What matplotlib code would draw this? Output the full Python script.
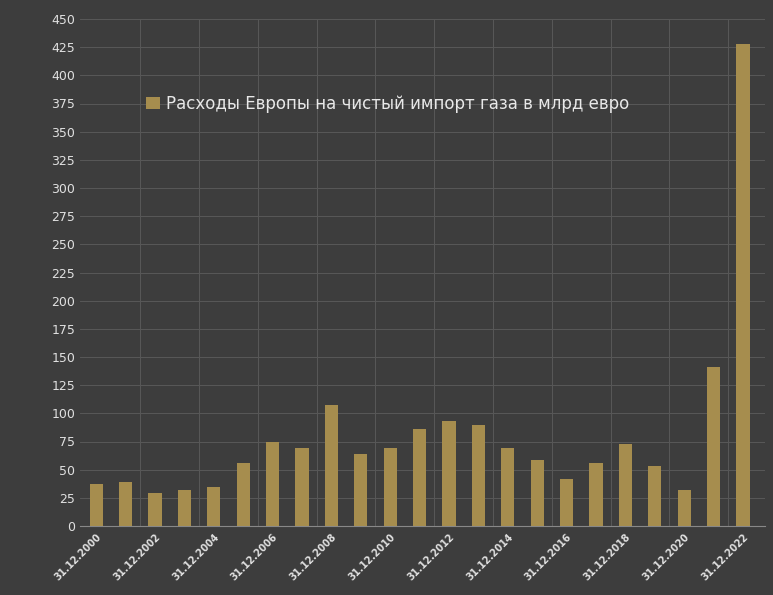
import matplotlib
matplotlib.use("Agg")
import matplotlib.pyplot as plt

years = list(range(2000, 2023))
values = [37, 39, 29, 32, 35, 56, 75, 69, 107, 64, 69, 86, 93, 90, 69, 59, 42, 56, 73, 53, 32, 141, 428]
labels = [f"31.12.{y}" for y in years]

bg = "#3d3d3d"
fig = plt.figure(figsize=(7.73, 5.95), dpi=100, facecolor=bg)
ax = fig.add_axes([80/773, 1-526/595, 685/773, 507/595], facecolor=bg)
x = list(range(len(years)))
ax.bar(x, values, width=0.45, color="#a68d4e", label="Расходы Европы на чистый импорт газа в млрд евро", zorder=3)
ax.set_xlim(-0.55, len(years)-0.25)
ax.set_ylim(0, 450)
ax.set_yticks(range(0, 451, 25))
ax.set_xticks(x[::2])
ax.set_xticklabels(labels[::2], rotation=45, ha="right", rotation_mode="anchor", fontsize=7, fontweight="bold", color="#e0e0e0")
ax.tick_params(axis="y", colors="#e0e0e0", labelsize=9, length=0)
ax.tick_params(axis="x", which="both", length=0, pad=4)
ax.grid(True, axis="y", color="#585858", linewidth=0.7, zorder=0)
for b in [i + 0.5 for i in range(1, len(years), 2)]:
    ax.axvline(b, color="#585858", linewidth=0.7, zorder=0)
for s in ["top", "right", "left"]:
    ax.spines[s].set_visible(False)
ax.spines["bottom"].set_color("#888888")
leg = ax.legend(loc="upper left", bbox_to_anchor=(0.075, 0.88), frameon=False, fontsize=12,
                handlelength=0.8, handleheight=0.8, handletextpad=0.4)
for t in leg.get_texts():
    t.set_color("#e8e8e8")
fig.savefig("out.png", dpi=100, facecolor=bg)
